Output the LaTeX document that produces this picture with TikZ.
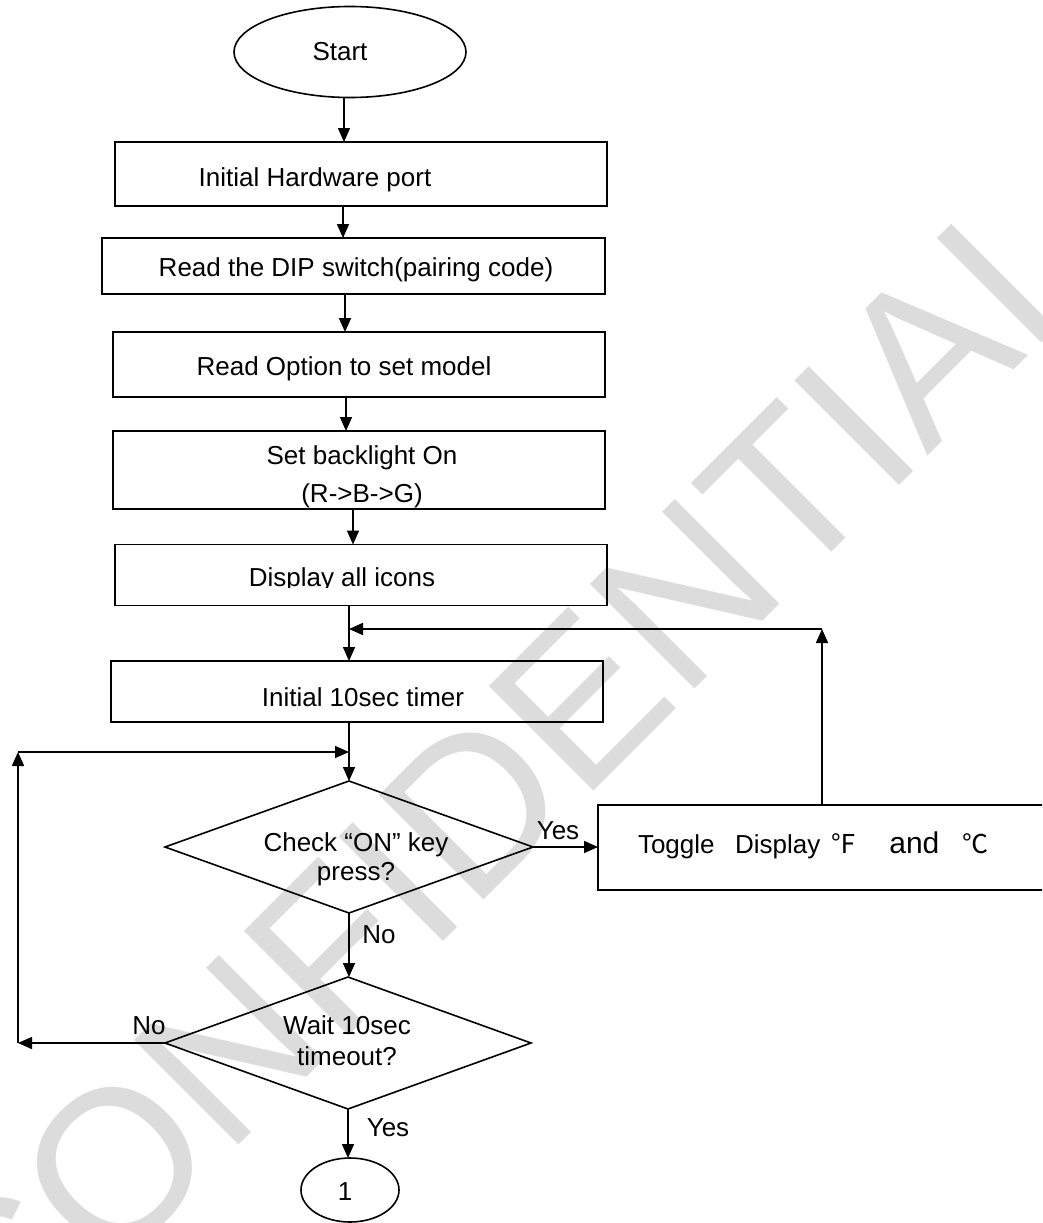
\documentclass[tikz,border=0pt]{standalone}
\usepackage{fontspec}
\setmainfont{Liberation Sans}
\newfontfamily\cjk{Noto Sans CJK SC}
\usetikzlibrary{arrows.meta,shapes.geometric}
\definecolor{wm}{RGB}{220,220,220}
\begin{document}
\begin{tikzpicture}[x=1pt,y=-1pt,
  box/.style={draw, line width=1.6pt, inner sep=0pt, outer sep=0pt},
  lbl/.style={inner sep=0pt, outer sep=0pt, anchor=base, font=\fontsize{26}{30}\selectfont},
  arr/.style={line width=1.6pt, -{Triangle[length=14pt,width=12pt]}}]
\useasboundingbox (0,0) rectangle (1042,1223);
\clip (0,0) rectangle (1042,1223);
% watermark
\node[rotate=45, text=wm, font=\fontsize{215}{215}\selectfont, inner sep=0pt] (wmark) at (504,776) {CONFIDENTIAL};
% shapes
\node[box, ellipse, minimum width=232pt, minimum height=91pt] (start) at (350,52) {};
\node[lbl] (tstart) at (340,60) {Start};
\node[box, minimum width=492pt, minimum height=64pt] (b1) at (361,174) {};
\node[lbl] (t1) at (315,186) {Initial Hardware port};
\node[box, minimum width=503pt, minimum height=56pt] (b2) at (353.5,266) {};
\node[lbl] (t2) at (356,276) {Read the DIP switch(pairing code)};
\node[box, minimum width=492pt, minimum height=65pt] (b3) at (359,364.5) {};
\node[lbl] (t3) at (344,375) {Read Option to set model};
\node[box, minimum width=492pt, minimum height=78pt] (b4) at (359,470) {};
\node[lbl] (t4a) at (362,464) {Set backlight On};
\node[lbl] (t4b) at (362,502) {(R->B->G)};
\node[box, minimum width=492pt, minimum height=61pt] (b5) at (361,575) {};
\begin{scope}
\clip (115,544) rectangle (607,587.5);
\node[lbl] (t5) at (342,586.5) {Display all icons};
\end{scope}
\node[box, minimum width=492pt, minimum height=61pt] (b6) at (357,691.5) {};
\node[lbl] (t6) at (363,706) {Initial 10sec timer};
\node[box, diamond, minimum width=368pt, minimum height=132pt] (d1) at (349,847) {};
\node[lbl] (t7a) at (356,851) {Check “ON” key};
\node[lbl] (t7b) at (356,880) {press?};
\node[box, diamond, minimum width=366pt, minimum height=132pt] (d2) at (348,1043) {};
\node[lbl] (t8a) at (347,1034) {Wait 10sec};
\node[lbl] (t8b) at (347,1065) {timeout?};
\node[box, ellipse, minimum width=98pt, minimum height=64pt] (c1) at (350,1190) {};
\node[lbl] (tc1) at (345,1200) {1};
\node[box, minimum width=470pt, minimum height=85pt] (tg) at (833,847.5) {};
\node[lbl, anchor=base west] (ttg) at (638,853) {Toggle\hspace{20.5pt}Display\hspace{10pt}{\cjk ℉}\hspace{33pt}{\fontsize{30}{34}\selectfont and}\hspace{23pt}{\cjk ℃}};
% labels
\node[lbl] (ly1) at (558,839) {Yes};
\node[lbl] (ln1) at (379,943) {No};
\node[lbl] (ln2) at (149,1034) {No};
\node[lbl] (ly2) at (388,1136) {Yes};
% helper coordinates
\coordinate (x1) at (344,0);
\coordinate (x2) at (343,0);
\coordinate (x3) at (345,0);
\coordinate (x4) at (346,0);
\coordinate (x5) at (353,0);
\coordinate (fr) at (822,629);
\coordinate (lb) at (18,1043);
\coordinate (lt) at (18,752);
% connectors
\draw[arr] (start.south -| x1) -- (b1.north -| x1);
\draw[arr] (b1.south -| x2) -- (b2.north -| x2);
\draw[arr] (b2.south -| x3) -- (b3.north -| x3);
\draw[arr] (b3.south -| x4) -- (b4.north -| x4);
\draw[arr] (b4.south -| x5) -- (b5.north -| x5);
\draw[arr] (b5.south -| d1.north) -- (b6.north -| d1.north);
\draw[arr] (b6.south -| d1.north) -- (d1.north);
\draw[arr] (d1.south) -- (d1.south |- d2.north);
\draw[arr] (d2.south) -- (d2.south |- c1.north);
\draw[arr] (d1.east) -- (tg.west |- d1.east);
\draw[arr] (tg.north -| fr) -- (fr);
\draw[arr] (fr) -- (fr -| d1.north);
\draw[arr] (d2.west) -- (lb);
\draw[arr] (lb) -- (lt);
\draw[arr] (lt) -- (lt -| d1.north);
\end{tikzpicture}
\end{document}
